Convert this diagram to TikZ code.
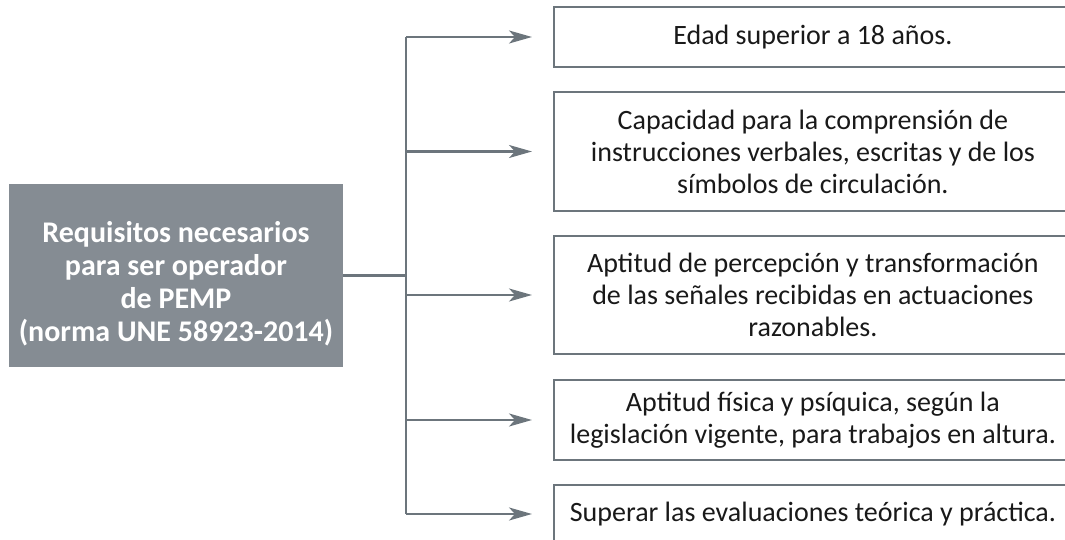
\documentclass[tikz,border=0pt]{standalone}
\usepackage{fontspec}
\setmainfont{Carlito}
\usetikzlibrary{arrows.meta,positioning}
\definecolor{linegray}{RGB}{108,117,124}
\definecolor{boxgray}{RGB}{133,140,147}
\begin{document}
\begin{tikzpicture}[x=1pt, y=-1pt,
    reqbox/.style={fill=boxgray, inner sep=0pt,
        minimum width=334pt, minimum height=183pt},
    reqtext/.style={text=white, align=center, inner sep=0pt,
        font=\fontsize{30}{33}\selectfont\bfseries},
    itembox/.style={draw=linegray, line width=1.8pt, anchor=west, align=center,
        inner sep=0pt, text=black!90, font=\fontsize{28}{32}\selectfont,
        minimum width=518pt},
    link/.style={draw=linegray, line width=2.2pt},
    arr/.style={link, -{Stealth[length=23pt, width=13pt, inset=6pt]}}]
    \useasboundingbox (0,0) rectangle (1065,540);
    \node[reqbox] (req) at (176,275.5) {};
    \node[reqtext] (reqlabel) at ([yshift=-8pt]req.center) {Requisitos necesarios\\para ser operador\\de PEMP\\(norma UNE 58923-2014)};
    \node[itembox, minimum height=60pt] (e1) at (553,37) {Edad superior a 18 años.};
    \node[itembox, minimum height=119pt] (e2) at (553,151.5) {Capacidad para la comprensión de\\instrucciones verbales, escritas y de los\\símbolos de circulación.};
    \node[itembox, minimum height=118pt] (e3) at (553,295) {Aptitud de percepción y transformación\\de las señales recibidas en actuaciones\\razonables.};
    \node[itembox, minimum height=80pt] (e4) at (553,420) {Aptitud física y psíquica, según la\\legislación vigente, para trabajos en altura.};
    \node[itembox, minimum height=58pt] (e5) at (553,514) {Superar las evaluaciones teórica y práctica.};
    \coordinate (trunk) at (406,0);
    \draw[link] (req.east) -- (req.east -| trunk);
    \draw[link] (trunk |- e1.west) -- (trunk |- e5.west);
    \foreach \i in {1,...,5}
        \draw[arr] (trunk |- e\i.west) -- ([xshift=-21pt]e\i.west);
\end{tikzpicture}
\end{document}
